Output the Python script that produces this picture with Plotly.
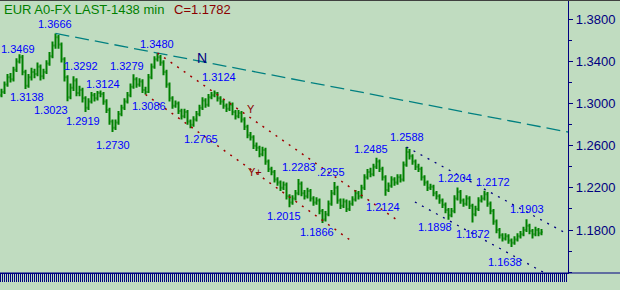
import plotly.graph_objects as go

# ---------------- data ----------------
bar_index = list(range(181))

opens = [1.3080, 1.3110, 1.3180, 1.3250, 1.3230, 1.3320, 1.3400, 1.3440, 1.3300, 1.3170,
         1.3250, 1.3300, 1.3280, 1.3350, 1.3260, 1.3300, 1.3380, 1.3450, 1.3550, 1.3630,
         1.3560, 1.3420, 1.3250, 1.3060, 1.3150, 1.3220, 1.3100, 1.3130, 1.3050, 1.2960,
         1.3020, 1.3080, 1.3050, 1.3100, 1.3090, 1.3020, 1.2940, 1.2830, 1.2770, 1.2820,
         1.2900, 1.2960, 1.3020, 1.3080, 1.3160, 1.3230, 1.3180, 1.3210, 1.3130, 1.3110,
         1.3250, 1.3350, 1.3420, 1.3440, 1.3390, 1.3300, 1.3180, 1.3050, 1.2980, 1.3000,
         1.2930, 1.2880, 1.2920, 1.2830, 1.2800, 1.2850, 1.2900, 1.2960, 1.3030, 1.2990,
         1.3060, 1.3080, 1.3100, 1.3050, 1.3020, 1.2980, 1.2950, 1.2990, 1.2920, 1.2880,
         1.2910, 1.2850, 1.2780, 1.2700, 1.2680, 1.2600, 1.2580, 1.2520, 1.2560, 1.2450,
         1.2380, 1.2350, 1.2280, 1.2250, 1.2200, 1.2230, 1.2120, 1.2060, 1.2100, 1.2150,
         1.2240, 1.2150, 1.2120, 1.2170, 1.2100, 1.2060, 1.2080, 1.1980, 1.1900, 1.1950,
         1.2050, 1.2150, 1.2200, 1.2080, 1.2030, 1.2070, 1.2000, 1.2050, 1.2090, 1.2150,
         1.2120, 1.2200, 1.2300, 1.2350, 1.2330, 1.2400, 1.2450, 1.2380, 1.2300, 1.2180,
         1.2220, 1.2280, 1.2250, 1.2300, 1.2280, 1.2420, 1.2540, 1.2500, 1.2450, 1.2400,
         1.2380, 1.2300, 1.2250, 1.2200, 1.2210, 1.2150, 1.2120, 1.2080, 1.2040, 1.1990,
         1.1940, 1.1980, 1.2100, 1.2160, 1.2080, 1.2050, 1.2100, 1.2030, 1.1950, 1.2000,
         1.2080, 1.2100, 1.2140, 1.2050, 1.1980, 1.1880, 1.1800, 1.1750, 1.1720, 1.1740,
         1.1700, 1.1680, 1.1710, 1.1740, 1.1760, 1.1800, 1.1840, 1.1790, 1.1760, 1.1800,
         1.1770]

closes = [1.3110, 1.3180, 1.3250, 1.3230, 1.3320, 1.3400, 1.3440, 1.3300, 1.3170, 1.3250,
          1.3300, 1.3280, 1.3350, 1.3260, 1.3300, 1.3380, 1.3450, 1.3550, 1.3630, 1.3560,
          1.3420, 1.3250, 1.3060, 1.3150, 1.3220, 1.3100, 1.3130, 1.3050, 1.2960, 1.3020,
          1.3080, 1.3050, 1.3100, 1.3090, 1.3020, 1.2940, 1.2830, 1.2770, 1.2820, 1.2900,
          1.2960, 1.3020, 1.3080, 1.3160, 1.3230, 1.3180, 1.3210, 1.3130, 1.3110, 1.3250,
          1.3350, 1.3420, 1.3440, 1.3390, 1.3300, 1.3180, 1.3050, 1.2980, 1.3000, 1.2930,
          1.2880, 1.2920, 1.2830, 1.2800, 1.2850, 1.2900, 1.2960, 1.3030, 1.2990, 1.3060,
          1.3080, 1.3100, 1.3050, 1.3020, 1.2980, 1.2950, 1.2990, 1.2920, 1.2880, 1.2910,
          1.2850, 1.2780, 1.2700, 1.2680, 1.2600, 1.2580, 1.2520, 1.2560, 1.2450, 1.2380,
          1.2350, 1.2280, 1.2250, 1.2200, 1.2230, 1.2120, 1.2060, 1.2100, 1.2150, 1.2240,
          1.2150, 1.2120, 1.2170, 1.2100, 1.2060, 1.2080, 1.1980, 1.1900, 1.1950, 1.2050,
          1.2150, 1.2200, 1.2080, 1.2030, 1.2070, 1.2000, 1.2050, 1.2090, 1.2150, 1.2120,
          1.2200, 1.2300, 1.2350, 1.2330, 1.2400, 1.2450, 1.2380, 1.2300, 1.2180, 1.2220,
          1.2280, 1.2250, 1.2300, 1.2280, 1.2420, 1.2540, 1.2500, 1.2450, 1.2400, 1.2380,
          1.2300, 1.2250, 1.2200, 1.2210, 1.2150, 1.2120, 1.2080, 1.2040, 1.1990, 1.1940,
          1.1980, 1.2100, 1.2160, 1.2080, 1.2050, 1.2100, 1.2030, 1.1950, 1.2000, 1.2080,
          1.2100, 1.2140, 1.2050, 1.1980, 1.1880, 1.1800, 1.1750, 1.1720, 1.1740, 1.1700,
          1.1680, 1.1710, 1.1740, 1.1760, 1.1800, 1.1840, 1.1790, 1.1760, 1.1800, 1.1770,
          1.1782]

highs = [1.3140, 1.3210, 1.3280, 1.3290, 1.3350, 1.3430, 1.3469, 1.3460, 1.3320, 1.3280,
         1.3340, 1.3330, 1.3390, 1.3370, 1.3330, 1.3410, 1.3490, 1.3590, 1.3666, 1.3650,
         1.3580, 1.3440, 1.3270, 1.3190, 1.3260, 1.3240, 1.3170, 1.3150, 1.3070, 1.3050,
         1.3110, 1.3100, 1.3120, 1.3124, 1.3110, 1.3040, 1.2960, 1.2850, 1.2850, 1.2930,
         1.2990, 1.3050, 1.3110, 1.3190, 1.3279, 1.3250, 1.3240, 1.3230, 1.3160, 1.3280,
         1.3380, 1.3450, 1.3480, 1.3460, 1.3410, 1.3320, 1.3200, 1.3070, 1.3030, 1.3020,
         1.2950, 1.2950, 1.2940, 1.2850, 1.2880, 1.2930, 1.2990, 1.3060, 1.3050, 1.3090,
         1.3110, 1.3124, 1.3110, 1.3070, 1.3040, 1.3000, 1.3020, 1.3010, 1.2940, 1.2940,
         1.2930, 1.2870, 1.2800, 1.2730, 1.2700, 1.2630, 1.2600, 1.2590, 1.2580, 1.2470,
         1.2400, 1.2370, 1.2300, 1.2270, 1.2260, 1.2250, 1.2140, 1.2130, 1.2180, 1.2283,
         1.2260, 1.2180, 1.2200, 1.2190, 1.2120, 1.2110, 1.2100, 1.2000, 1.1980, 1.2080,
         1.2180, 1.2255, 1.2220, 1.2100, 1.2100, 1.2090, 1.2080, 1.2120, 1.2180, 1.2170,
         1.2230, 1.2330, 1.2380, 1.2390, 1.2430, 1.2485, 1.2470, 1.2400, 1.2320, 1.2250,
         1.2310, 1.2300, 1.2330, 1.2330, 1.2450, 1.2588, 1.2570, 1.2520, 1.2470, 1.2430,
         1.2400, 1.2320, 1.2270, 1.2240, 1.2230, 1.2170, 1.2140, 1.2100, 1.2060, 1.2010,
         1.2010, 1.2130, 1.2204, 1.2180, 1.2100, 1.2130, 1.2120, 1.2050, 1.2030, 1.2110,
         1.2130, 1.2172, 1.2160, 1.2070, 1.2000, 1.1900, 1.1820, 1.1770, 1.1770, 1.1760,
         1.1720, 1.1740, 1.1770, 1.1790, 1.1830, 1.1903, 1.1860, 1.1810, 1.1830, 1.1820,
         1.1810]

lows = [1.3060, 1.3090, 1.3160, 1.3200, 1.3210, 1.3300, 1.3380, 1.3270, 1.3138, 1.3150,
        1.3220, 1.3240, 1.3260, 1.3220, 1.3230, 1.3280, 1.3360, 1.3430, 1.3520, 1.3520,
        1.3390, 1.3210, 1.3023, 1.3040, 1.3120, 1.3070, 1.3070, 1.3010, 1.2919, 1.2940,
        1.3000, 1.3020, 1.3030, 1.3060, 1.2990, 1.2910, 1.2800, 1.2730, 1.2750, 1.2800,
        1.2880, 1.2940, 1.3000, 1.3060, 1.3140, 1.3150, 1.3160, 1.3100, 1.3086, 1.3100,
        1.3230, 1.3330, 1.3400, 1.3360, 1.3270, 1.3150, 1.3020, 1.2950, 1.2960, 1.2900,
        1.2850, 1.2860, 1.2800, 1.2765, 1.2780, 1.2830, 1.2880, 1.2940, 1.2960, 1.2970,
        1.3040, 1.3060, 1.3020, 1.2990, 1.2950, 1.2920, 1.2930, 1.2890, 1.2850, 1.2860,
        1.2820, 1.2750, 1.2670, 1.2650, 1.2570, 1.2550, 1.2490, 1.2500, 1.2420, 1.2350,
        1.2320, 1.2250, 1.2220, 1.2170, 1.2180, 1.2090, 1.2015, 1.2040, 1.2080, 1.2130,
        1.2120, 1.2090, 1.2100, 1.2070, 1.2030, 1.2040, 1.1950, 1.1866, 1.1880, 1.1930,
        1.2030, 1.2130, 1.2050, 1.2000, 1.2010, 1.1970, 1.1980, 1.2030, 1.2070, 1.2090,
        1.2100, 1.2180, 1.2280, 1.2300, 1.2310, 1.2380, 1.2350, 1.2270, 1.2124, 1.2160,
        1.2200, 1.2220, 1.2230, 1.2250, 1.2260, 1.2400, 1.2470, 1.2420, 1.2370, 1.2350,
        1.2270, 1.2220, 1.2170, 1.2180, 1.2120, 1.2090, 1.2050, 1.2010, 1.1960, 1.1898,
        1.1920, 1.1960, 1.2080, 1.2050, 1.2020, 1.2030, 1.2000, 1.1872, 1.1930, 1.1980,
        1.2060, 1.2080, 1.2020, 1.1950, 1.1850, 1.1770, 1.1720, 1.1690, 1.1700, 1.1670,
        1.1638, 1.1660, 1.1690, 1.1720, 1.1740, 1.1780, 1.1760, 1.1720, 1.1740, 1.1740,
        1.1750]

# pivot value labels
label_texts = ["1.3469", "1.3666", "1.3138", "1.3292", "1.3023", "1.3124", "1.2919",
               "1.2730", "1.3279", "1.3086", "1.3480", "1.3124", "1.2765", "1.2283",
               ".2255", "1.2015", "1.1866", "1.2485", "1.2588", "1.2124", "1.2204",
               "1.2172", "1.1898", "1.1872", "1.1903", "1.1638"]
label_x = [5.4, 17.8, 8.5, 26.5, 16.5, 33.8, 27.2,
           37.2, 41.8, 49.2, 51.8, 72.5, 66.5, 99.2,
           109.8, 94.2, 105.2, 123.2, 135.2, 127.2, 151.2,
           163.8, 144.5, 157.2, 175.2, 167.8]
label_y = [1.3518, 1.3755, 1.3062, 1.3357, 1.2939, 1.3186, 1.2835,
           1.2607, 1.3357, 1.2977, 1.3566, 1.3252, 1.2664, 1.2398,
           1.2351, 1.1933, 1.1781, 1.2569, 1.2683, 1.2018, 1.2294,
           1.2256, 1.1828, 1.1762, 1.2001, 1.1496]

# trend lines: (x0, y0, x1, y1) in bar index / price
teal_line = (18, 1.3666, 188.83, 1.2730)
red_upper = (52, 1.3480, 132.8, 1.1876)
red_lower = (48, 1.3086, 116.2, 1.1705)
navy_upper = (135, 1.2588, 187.2, 1.1784)
navy_lower = (137.8, 1.2066, 180.5, 1.1401)

y_ticks = [1.18, 1.22, 1.26, 1.30, 1.34, 1.38]

title_text = "EUR A0-FX LAST-1438 min"
last_text = "C=1.1782"

# ---------------- style ----------------
BG = "#C0DCC0"
GREEN = "#008000"
NAVY = "#000080"
BLUE = "#0000FF"
DRED = "#8B0000"
TEAL = "#008080"
FONT = "Liberation Sans, Arial, sans-serif"

fig = go.Figure(go.Ohlc(
    x=bar_index, open=opens, high=highs, low=lows, close=closes,
    increasing=dict(line=dict(color=GREEN, width=2)),
    decreasing=dict(line=dict(color=GREEN, width=2)),
    tickwidth=0.4, hoverinfo="skip", showlegend=False,
))

def seg(t, color, dash, width):
    return dict(type="line", xref="x", yref="y", x0=t[0], y0=t[1], x1=t[2], y1=t[3],
                line=dict(color=color, dash=dash, width=width), layer="above")

shapes = [
    seg(teal_line, TEAL, "14px,6px", 1.3),
    seg(red_upper, "#A00000", "2px,6px", 1.5),
    seg(red_lower, "#A00000", "2px,6px", 1.5),
    seg(navy_upper, NAVY, "2px,6px", 1.3),
    seg(navy_lower, NAVY, "2px,6px", 1.3),
    dict(type="line", xref="paper", yref="paper", x0=0, x1=620/568, y0=0, y1=0,
         line=dict(color=NAVY, width=1.2)),
    dict(type="line", xref="paper", yref="paper", x0=0, x1=620/568, y0=1, y1=1,
         line=dict(color="#404040", width=2)),
]

annotations = []
for t, x, y in zip(label_texts, label_x, label_y):
    annotations.append(dict(x=x, y=y, xref="x", yref="y", text=t, showarrow=False,
                            font=dict(family=FONT, size=11, color=BLUE),
                            xanchor="center", yanchor="middle"))
annotations += [
    dict(x=66.8, y=1.3433, xref="x", yref="y", text="N", showarrow=False,
         font=dict(family=FONT, size=14, color=NAVY)),
    dict(x=83.2, y=1.2949, xref="x", yref="y", text="Y", showarrow=False,
         font=dict(family=FONT, size=11, color=DRED)),
    dict(x=84.5, y=1.2351, xref="x", yref="y", text="Y+", showarrow=False,
         font=dict(family=FONT, size=11, color=DRED)),
    dict(x=2/568, y=1 - 10/273, xref="paper", yref="paper", text=title_text, showarrow=False,
         xanchor="left", yanchor="middle", font=dict(family=FONT, size=13, color=GREEN)),
    dict(x=172/568, y=1 - 10/273, xref="paper", yref="paper", text=last_text, showarrow=False,
         xanchor="left", yanchor="middle", font=dict(family=FONT, size=13, color=DRED)),
]

fig.update_layout(
    width=620, height=290,
    margin=dict(l=0, r=52, t=0, b=17, pad=0),
    paper_bgcolor=BG, plot_bgcolor=BG,
    showlegend=False,
    shapes=shapes, annotations=annotations,
    xaxis=dict(range=[-0.5, 568/3 - 0.5], rangeslider=dict(visible=False),
               showgrid=False, zeroline=False, showline=True, linecolor=NAVY, linewidth=1,
               ticks="outside", ticklen=8, tickcolor=NAVY, tickwidth=1,
               tick0=-0.5 + 0.5/3, dtick=2/3, showticklabels=False, fixedrange=True),
    yaxis=dict(range=[1.1392, 1.3983], side="right", showgrid=False, zeroline=False,
               showline=True, linecolor=NAVY, linewidth=1.2,
               ticks="outside", ticklen=4, tickcolor=NAVY, tickwidth=1,
               tickvals=y_ticks, tickformat=".4f",
               tickfont=dict(family=FONT, size=13, color=NAVY),
               minor=dict(ticks="outside", ticklen=3, tickcolor=NAVY, dtick=0.02, tick0=1.18),
               fixedrange=True),
)

fig.write_html("out.html")
